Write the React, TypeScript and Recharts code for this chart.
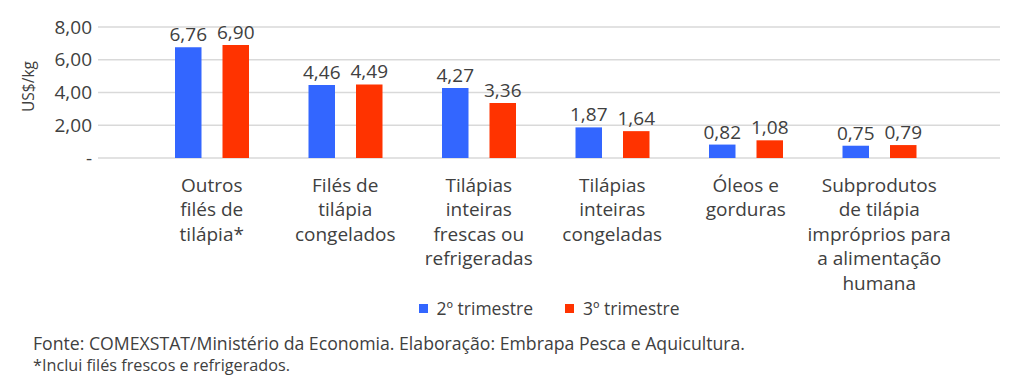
import React from 'react';
import { BarChart, Bar, XAxis, YAxis, CartesianGrid, Legend, LabelList } from 'recharts';

const categories = [
  'Outros\nfilés de\ntilápia*',
  'Filés de\ntilápia\ncongelados',
  'Tilápias\ninteiras\nfrescas ou\nrefrigeradas',
  'Tilápias\ninteiras\ncongeladas',
  'Óleos e\ngorduras',
  'Subprodutos\nde tilápia\nimpróprios para\na alimentação\nhumana',
];
const q2Values = [6.76, 4.46, 4.27, 1.87, 0.82, 0.75];
const q3Values = [6.9, 4.49, 3.36, 1.64, 1.08, 0.79];
const seriesNames = ['2º trimestre', '3º trimestre'];
const seriesColors = ['#3366FF', '#FF3300'];
const yTicks = [0, 2, 4, 6, 8];
const yTickLabels = ['-', '2,00', '4,00', '6,00', '8,00'];
const yAxisTitle = 'US$/kg';
const sourceNote = 'Fonte: COMEXSTAT/Ministério da Economia. Elaboração: Embrapa Pesca e Aquicultura.';
const footNote = '*Inclui filés frescos e refrigerados.';

const data = categories.map((c, i) => ({ category: c, q2: q2Values[i], q3: q3Values[i] }));

const FONT = '"Open Sans", sans-serif';
const TEXT = '#404040';

const fmtValue = (v: any) => Number(v).toFixed(2).replace('.', ',');
const fmtTick = (v: any) => {
  const idx = yTicks.indexOf(Number(v));
  return idx >= 0 ? yTickLabels[idx] : fmtValue(v);
};

const CategoryTick = (props: any) => {
  const { x, y, payload } = props;
  const lines = String(payload.value).split('\n');
  return (
    <text x={x} y={y} textAnchor="middle" fill={TEXT} fontSize={19} fontFamily={FONT}>
      {lines.map((l, i) => (
        <tspan key={i} x={x} dy={i === 0 ? 33.5 : 24.5}>
          {l}
        </tspan>
      ))}
    </text>
  );
};

const YTitle = (props: any) => {
  const vb = props.viewBox || { x: 0, y: 0, width: 0, height: 0 };
  const cx = vb.x + 27.5;
  const cy = vb.y + vb.height / 2 - 6;
  return (
    <text
      x={cx}
      y={cy}
      transform={`rotate(-90, ${cx}, ${cy})`}
      textAnchor="middle"
      dominantBaseline="central"
      fill={TEXT}
      fontSize={15.5}
      fontFamily={FONT}
    >
      {yAxisTitle}
    </text>
  );
};

const LegendContent = (props: any) => {
  const { payload = [] } = props;
  return (
    <div
      style={{
        display: 'flex',
        justifyContent: 'center',
        gap: 32,
        paddingLeft: 98,
        fontFamily: FONT,
        fontSize: 17.5,
        color: TEXT,
        lineHeight: '24px',
      }}
    >
      {payload.map((entry: any, i: number) => (
        <div key={i} style={{ display: 'flex', alignItems: 'center' }}>
          <span
            style={{ display: 'inline-block', width: 9, height: 9, background: entry.color, marginRight: 9 }}
          />
          <span>{entry.value}</span>
        </div>
      ))}
    </div>
  );
};

export default function App() {
  return (
    <div style={{ position: 'absolute', left: 0, top: 0, width: 1024, height: 377, background: '#fff' }}>
      <BarChart
        width={1024}
        height={330}
        data={data}
        margin={{ top: 27, right: 24, left: 0, bottom: 10 }}
        barGap={21}
      >
        <CartesianGrid vertical={false} stroke="#D9D9D9" strokeWidth={1.5} />
        <XAxis
          dataKey="category"
          interval={0}
          tickLine={false}
          axisLine={false}
          tickSize={0}
          tickMargin={0}
          height={138}
          padding={{ left: 47, right: 54 }}
          tick={<CategoryTick />}
        />
        <YAxis
          width={98}
          domain={[0, 8]}
          ticks={yTicks}
          tickFormatter={fmtTick}
          tickLine={false}
          axisLine={false}
          tickSize={0}
          tickMargin={6}
          tick={{ fill: TEXT, fontSize: 19, fontFamily: FONT }}
          label={(p: any) => <YTitle {...p} />}
        />
        <Legend verticalAlign="bottom" content={<LegendContent />} />
        <Bar dataKey="q2" name={seriesNames[0]} fill={seriesColors[0]} barSize={26.5} isAnimationActive={false}>
          <LabelList dataKey="q2" position="top" offset={6} formatter={fmtValue} fill={TEXT} fontSize={19} fontFamily={FONT} />
        </Bar>
        <Bar dataKey="q3" name={seriesNames[1]} fill={seriesColors[1]} barSize={26.5} isAnimationActive={false}>
          <LabelList dataKey="q3" position="top" offset={6} formatter={fmtValue} fill={TEXT} fontSize={19} fontFamily={FONT} />
        </Bar>
      </BarChart>
      <svg width={1024} height={47} style={{ position: 'absolute', left: 0, top: 330 }}>
        <text x={33} y={20} fill={TEXT} fontSize={18} fontFamily={FONT} textLength={712} lengthAdjust="spacingAndGlyphs">
          {sourceNote}
        </text>
        <text x={33} y={41} fill={TEXT} fontSize={15.5} fontFamily={FONT} textLength={257} lengthAdjust="spacingAndGlyphs">
          {footNote}
        </text>
      </svg>
    </div>
  );
}
